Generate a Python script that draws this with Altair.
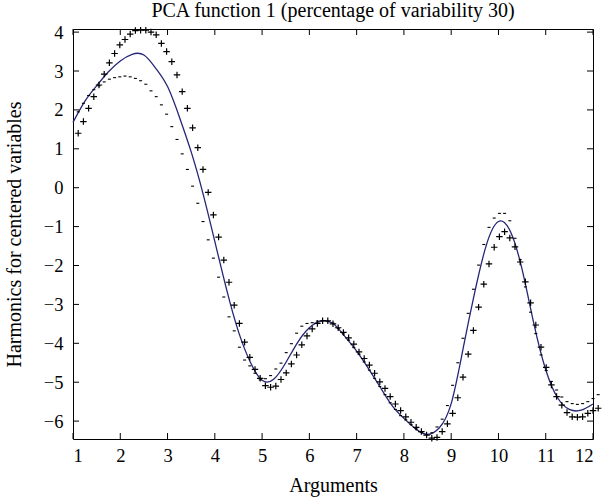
import altair as alt
import pandas as pd

TITLE = "PCA function 1 (percentage of variability 30)"
X_TITLE = "Arguments"
Y_TITLE = "Harmonics for centered variables"

x_ticks = [1, 2, 3, 4, 5, 6, 7, 8, 9, 10, 11, 12]
y_ticks = [-6, -5, -4, -3, -2, -1, 0, 1, 2, 3, 4]

# mean function (solid line)
mean_x = [1.00, 1.25, 1.50, 1.75, 2.00, 2.25, 2.50, 2.75, 3.00, 3.25, 3.50, 3.75,
          4.00, 4.25, 4.50, 4.75, 5.00, 5.25, 5.50, 5.75, 6.00, 6.25, 6.50, 6.75,
          7.00, 7.25, 7.50, 7.75, 8.00, 8.25, 8.50, 8.75, 9.00, 9.25, 9.50, 9.75,
          10.00, 10.25, 10.50, 10.75, 11.00, 11.25, 11.50, 11.75, 12.00]
mean_y = [1.68, 2.22, 2.62, 2.98, 3.26, 3.43, 3.41, 3.07, 2.60, 1.82, 0.92, -0.15,
          -1.38, -2.62, -3.70, -4.48, -4.95, -4.92, -4.50, -3.98, -3.60, -3.43, -3.49, -3.82,
          -4.20, -4.65, -5.13, -5.60, -5.93, -6.20, -6.34, -6.17, -5.55, -4.15, -2.68, -1.45,
          -0.87, -1.12, -2.10, -3.50, -4.68, -5.40, -5.70, -5.72, -5.56]

# arguments at which the +/- markers are drawn
arg_x = [1.11, 1.22, 1.33, 1.44, 1.55, 1.66, 1.77, 1.88, 1.99, 2.10,
         2.21, 2.32, 2.43, 2.54, 2.65, 2.76, 2.87, 2.98, 3.09, 3.20,
         3.31, 3.42, 3.53, 3.64, 3.75, 3.86, 3.97, 4.08, 4.19, 4.30,
         4.41, 4.52, 4.63, 4.74, 4.85, 4.96, 5.07, 5.18, 5.29, 5.40,
         5.51, 5.62, 5.73, 5.84, 5.95, 6.06, 6.17, 6.28, 6.39, 6.50,
         6.61, 6.72, 6.83, 6.94, 7.05, 7.16, 7.27, 7.38, 7.49, 7.60,
         7.71, 7.82, 7.93, 8.04, 8.15, 8.26, 8.37, 8.48, 8.59, 8.70,
         8.81, 8.92, 9.03, 9.14, 9.25, 9.36, 9.47, 9.58, 9.69, 9.80,
         9.91, 10.02, 10.13, 10.24, 10.35, 10.46, 10.57, 10.68, 10.79, 10.90,
         11.01, 11.12, 11.23, 11.34, 11.45, 11.56, 11.67, 11.78, 11.89, 12.00,
         12.11]

plus_y = [1.40, 1.70, 2.04, 2.34, 2.64, 2.92, 3.21, 3.45, 3.67, 3.81,
          3.95, 4.04, 4.05, 4.05, 4.00, 3.93, 3.71, 3.50, 3.24, 2.90,
          2.47, 2.04, 1.54, 1.03, 0.47, -0.12, -0.70, -1.27, -1.86, -2.43,
          -3.02, -3.49, -3.97, -4.36, -4.67, -4.90, -5.09, -5.13, -5.10, -4.93,
          -4.76, -4.53, -4.30, -4.04, -3.81, -3.63, -3.49, -3.42, -3.42, -3.50,
          -3.60, -3.72, -3.86, -4.02, -4.22, -4.39, -4.56, -4.77, -4.99, -5.16,
          -5.37, -5.56, -5.73, -5.89, -6.03, -6.16, -6.27, -6.36, -6.44, -6.42,
          -6.27, -6.07, -5.80, -5.40, -4.87, -4.28, -3.67, -3.07, -2.48, -1.96,
          -1.53, -1.26, -1.13, -1.29, -1.52, -1.91, -2.42, -2.96, -3.53, -4.10,
          -4.62, -5.07, -5.37, -5.59, -5.78, -5.89, -5.90, -5.89, -5.80, -5.73,
          -5.67]

minus_y = [1.95, 2.17, 2.37, 2.52, 2.62, 2.72, 2.79, 2.83, 2.85, 2.87,
           2.85, 2.81, 2.75, 2.66, 2.49, 2.34, 2.13, 1.89, 1.57, 1.24,
           0.87, 0.47, 0.04, -0.40, -0.87, -1.34, -1.81, -2.30, -2.81, -3.32,
           -3.68, -4.10, -4.43, -4.58, -4.77, -4.94, -4.91, -4.83, -4.66, -4.51,
           -4.24, -4.01, -3.74, -3.56, -3.49, -3.47, -3.43, -3.42, -3.44, -3.48,
           -3.62, -3.76, -3.92, -4.11, -4.28, -4.48, -4.69, -4.90, -5.11, -5.32,
           -5.53, -5.70, -5.86, -5.97, -6.09, -6.20, -6.29, -6.35, -6.30, -6.15,
           -5.95, -5.60, -5.08, -4.50, -3.87, -3.23, -2.61, -1.99, -1.46, -1.02,
           -0.78, -0.66, -0.66, -0.85, -1.30, -1.85, -2.55, -3.20, -3.75, -4.30,
           -4.70, -4.98, -5.20, -5.38, -5.50, -5.55, -5.57, -5.55, -5.50, -5.42,
           -5.32]

W, H = 520, 410
FONT = "Liberation Serif"
LABEL_SIZE = 18.5
TITLE_SIZE = 20
TICK = 6

xs = alt.Scale(domain=[1, 12], nice=False, zero=False)
ys = alt.Scale(domain=[-6.46, 4.08], nice=False, zero=False)

mean_df = pd.DataFrame({"x": mean_x, "y": mean_y})
pts_df = pd.DataFrame({"x": arg_x, "plus": plus_y, "minus": minus_y})
xt_df = pd.DataFrame({"x": x_ticks})
yt_df = pd.DataFrame({"y": y_ticks})

x_axis = alt.Axis(values=x_ticks, title=X_TITLE, tickSize=0, domain=False, grid=False,
                  labelFont=FONT, labelFontSize=LABEL_SIZE, labelColor="black", labelPadding=7,
                  titleFont=FONT, titleFontSize=TITLE_SIZE, titleFontWeight="normal",
                  titleColor="black", titlePadding=11)
y_axis = alt.Axis(values=y_ticks, title=Y_TITLE, tickSize=0, domain=False, grid=False,
                  labelFont=FONT, labelFontSize=LABEL_SIZE, labelColor="black", labelPadding=10,
                  titleFont=FONT, titleFontSize=TITLE_SIZE, titleFontWeight="normal",
                  titleColor="black", titlePadding=19)


def X(field):
    return alt.X(f"{field}:Q", scale=xs, axis=x_axis, title=X_TITLE)


def Y(field):
    return alt.Y(f"{field}:Q", scale=ys, axis=y_axis, title=Y_TITLE)


line = alt.Chart(mean_df).mark_line(
    color="#262678", strokeWidth=1.3, interpolate="natural"
).encode(x=X("x"), y=Y("y"))

plus = alt.Chart(pts_df).mark_point(
    shape="M-1,0L1,0M0,-1L0,1", size=42, strokeWidth=1.2, color="black",
    filled=False, opacity=1
).encode(x=X("x"), y=Y("plus"))

minus = alt.Chart(pts_df).mark_point(
    shape="M-1,0L1,0", size=9, strokeWidth=1.1, color="black",
    filled=False, opacity=1
).encode(x=X("x"), y=Y("minus"))

tick_style = dict(color="black", strokeWidth=1)
bottom_ticks = alt.Chart(xt_df).mark_rule(**tick_style).encode(
    x=X("x"), y=alt.value(H), y2=alt.value(H - TICK))
top_ticks = alt.Chart(xt_df).mark_rule(**tick_style).encode(
    x=X("x"), y=alt.value(0), y2=alt.value(TICK))
left_ticks = alt.Chart(yt_df).mark_rule(**tick_style).encode(
    y=Y("y"), x=alt.value(0), x2=alt.value(TICK))
right_ticks = alt.Chart(yt_df).mark_rule(**tick_style).encode(
    y=Y("y"), x=alt.value(W), x2=alt.value(W - TICK))

chart = alt.layer(
    line, minus, plus, bottom_ticks, top_ticks, left_ticks, right_ticks
).properties(
    width=W, height=H,
    title=alt.TitleParams(TITLE, font=FONT, fontSize=TITLE_SIZE, fontWeight="normal",
                          color="black", anchor="middle", offset=2),
    padding={"left": 73, "top": 29, "right": 10, "bottom": 63},
    autosize=alt.AutoSizeParams(type="none"),
    background="white",
).configure_view(stroke="black", strokeWidth=1)

chart.save("out.html", embed_options={"renderer": "svg", "actions": False})
